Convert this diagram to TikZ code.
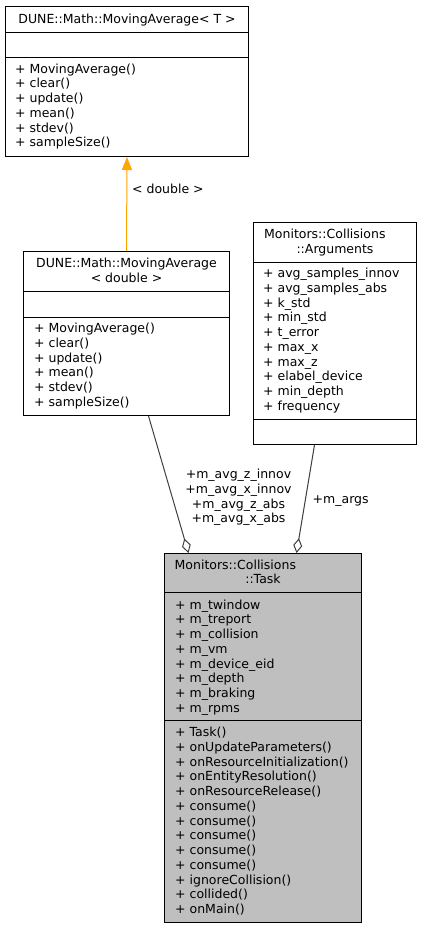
\documentclass[tikz,border=0pt]{standalone}
\usepackage{fontspec}
\setmainfont{DejaVu Sans}
\usepackage{tikz}
\usetikzlibrary{calc}
\usetikzlibrary{arrows.meta}
\usepackage{xcolor}
\definecolor{classGray}{RGB}{191,191,191}
\definecolor{edgeGray}{RGB}{64,64,64}
\definecolor{inhOrange}{RGB}{255,165,0}
\tikzset{
  classbox/.style={draw=black, line width=1bp, anchor=north west, inner sep=0pt},
  classline/.style={draw=black, line width=1bp},
  member/.style={anchor=base west, inner sep=0pt},
  classtitle/.style={anchor=base, inner sep=0pt},
  edgelabel/.style={inner sep=0pt},
  inherit/.style={draw=inhOrange, line width=1bp, -{Triangle[length=13bp,width=10bp]}},
  aggregate/.style={draw=edgeGray, line width=1bp, -{Diamond[open,length=15bp,width=9bp]}},
}

\begin{document}
\begin{tikzpicture}[x=1bp, y=-1bp, font=\fontsize{12.5bp}{14.75bp}\selectfont]
\useasboundingbox (0,0) rectangle (421,928);

%%%%%%%%%%%%%%%%%%%%%%%%%%%%%%%%%%%%%%%%%%%%%%%%%%%%%%%%%%%%%% MovingAverage< T >
\node[classbox, minimum width=243bp, minimum height=150bp] (avgT) at (5,6) {};
\draw[classline] ($(avgT.north west)+(0,26)$) -- ($(avgT.north east)+(0,26)$);
\draw[classline] ($(avgT.north west)+(0,51)$) -- ($(avgT.north east)+(0,51)$);
\node[classtitle] (avgT-t) at ($(avgT.north)+(0,17)$) {DUNE::Math::MovingAverage< T >};
\foreach \m [count=\i from 0] in {MovingAverage(), clear(), update(), mean(), stdev(), sampleSize()}
  \node[member] (avgT-m\i) at ($(avgT.north west)+(10,67+14.75*\i)$) {+ \m};

%%%%%%%%%%%%%%%%%%%%%%%%%%%%%%%%%%%%%%%%%%%%%%%%%%%%%%%%%%%%%% MovingAverage< double >
\node[classbox, minimum width=206bp, minimum height=164bp] (avgD) at (23,251) {};
\draw[classline] ($(avgD.north west)+(0,40)$) -- ($(avgD.north east)+(0,40)$);
\draw[classline] ($(avgD.north west)+(0,66)$) -- ($(avgD.north east)+(0,66)$);
\node[classtitle] (avgD-t1) at ($(avgD.north)+(0,16.5)$) {DUNE::Math::MovingAverage};
\node[classtitle] (avgD-t2) at ($(avgD.north)+(0,31)$) {< double >};
\foreach \m [count=\i from 0] in {MovingAverage(), clear(), update(), mean(), stdev(), sampleSize()}
  \node[member] (avgD-m\i) at ($(avgD.north west)+(11,81.5+14.75*\i)$) {+ \m};

\draw[inherit] (avgD.north) -- (avgT.south);
\node[edgelabel, anchor=base west] (dblLabel) at ($(avgT.south)+(5,36.5)$) {< double >};

%%%%%%%%%%%%%%%%%%%%%%%%%%%%%%%%%%%%%%%%%%%%%%%%%%%%%%%%%%%%%% Arguments
\node[classbox, minimum width=163bp, minimum height=222bp] (args) at (253,222) {};
\draw[classline] ($(args.north west)+(0,40)$) -- ($(args.north east)+(0,40)$);
\draw[classline] ($(args.north west)+(0,197)$) -- ($(args.north east)+(0,197)$);
\node[member] (args-t1) at ($(args.north west)+(11,16.5)$) {Monitors::Collisions};
\node[classtitle] (args-t2) at ($(args.north)+(0,31.5)$) {::Arguments};
\foreach \a [count=\i from 0] in {avg\_samples\_innov, avg\_samples\_abs, k\_std, min\_std, t\_error,
    max\_x, max\_z, elabel\_device, min\_depth, frequency}
  \node[member] (args-a\i) at ($(args.north west)+(10,55.5+14.75*\i)$) {+ \a};

%%%%%%%%%%%%%%%%%%%%%%%%%%%%%%%%%%%%%%%%%%%%%%%%%%%%%%%%%%%%%% Task
\node[classbox, fill=classGray, minimum width=197bp, minimum height=369bp] (task) at (164,553) {};
\draw[classline] ($(task.north west)+(0,39)$) -- ($(task.north east)+(0,39)$);
\draw[classline] ($(task.north west)+(0,167)$) -- ($(task.north east)+(0,167)$);
\node[member] (task-t1) at ($(task.north west)+(10.5,16)$) {Monitors::Collisions};
\node[classtitle] (task-t2) at ($(task.north)+(0,30.5)$) {::Task};
\foreach \a [count=\i from 0] in {m\_twindow, m\_treport, m\_collision, m\_vm, m\_device\_eid,
    m\_depth, m\_braking, m\_rpms}
  \node[member] (task-a\i) at ($(task.north west)+(11,56+14.75*\i)$) {+ \a};
\foreach \m [count=\i from 0] in {Task(), onUpdateParameters(), onResourceInitialization(),
    onEntityResolution(), onResourceRelease(), consume(), consume(), consume(), consume(),
    consume(), ignoreCollision(), collided(), onMain()}
  \node[member] (task-m\i) at ($(task.north west)+(11,183.5+14.75*\i)$) {+ \m};

%%%%%%%%%%%%%%%%%%%%%%%%%%%%%%%%%%%%%%%%%%%%%%%%%%%%%%%%%%%%%% aggregation
\draw[aggregate] ([xshift=22bp]avgD.south) -- ([xshift=-74.5bp]task.north);
\draw[aggregate] ([xshift=-20.5bp]args.south) -- ([xshift=33.5bp]task.north);
\node[edgelabel, align=center] (avgLabel) at (238.5,497.5)
  {+m\_avg\_z\_innov\\+m\_avg\_x\_innov\\+m\_avg\_z\_abs\\+m\_avg\_x\_abs};
\node[edgelabel, anchor=base west] (argsLabel) at ($(args.south)+(-22.5,58)$) {+m\_args};

\end{tikzpicture}
\end{document}
